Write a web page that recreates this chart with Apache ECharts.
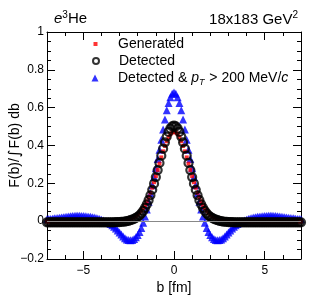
<!DOCTYPE html>
<html>
<head>
<meta charset="utf-8">
<script src="https://cdn.jsdelivr.net/npm/echarts@6/dist/echarts.min.js"></script>
<style>html,body{margin:0;padding:0;background:#fff;}#c{width:317px;height:305px;}</style>
</head>
<body>
<div id="c"></div>
<script>
// ---- data ----
var bVals = [-7.0,-6.9,-6.8,-6.7,-6.6,-6.5,-6.4,-6.3,-6.2,-6.1,-6.0,-5.9,-5.8,-5.7,-5.6,-5.5,-5.4,-5.3,-5.2,-5.1,
-5.0,-4.9,-4.8,-4.7,-4.6,-4.5,-4.4,-4.3,-4.2,-4.1,-4.0,-3.9,-3.8,-3.7,-3.6,-3.5,-3.4,-3.3,-3.2,-3.1,
-3.0,-2.9,-2.8,-2.7,-2.6,-2.5,-2.4,-2.3,-2.2,-2.1,-2.0,-1.9,-1.8,-1.7,-1.6,-1.5,-1.4,-1.3,-1.2,-1.1,
-1.0,-0.9,-0.8,-0.7,-0.6,-0.5,-0.4,-0.3,-0.2,-0.1,0.0,
0.1,0.2,0.3,0.4,0.5,0.6,0.7,0.8,0.9,1.0,1.1,1.2,1.3,1.4,1.5,1.6,1.7,1.8,1.9,2.0,
2.1,2.2,2.3,2.4,2.5,2.6,2.7,2.8,2.9,3.0,3.1,3.2,3.3,3.4,3.5,3.6,3.7,3.8,3.9,4.0,
4.1,4.2,4.3,4.4,4.5,4.6,4.7,4.8,4.9,5.0,5.1,5.2,5.3,5.4,5.5,5.6,5.7,5.8,5.9,6.0,
6.1,6.2,6.3,6.4,6.5,6.6,6.7,6.8,6.9,7.0];

var generated = [
-0.002,-0.002,-0.002,-0.002,-0.002,-0.002,-0.002,-0.002,-0.002,-0.002,
-0.002,-0.002,-0.002,-0.002,-0.002,-0.002,-0.002,-0.002,-0.002,-0.002,
-0.002,-0.002,-0.002,-0.002,-0.002,-0.002,-0.002,-0.002,-0.002,-0.002,
-0.001,-0.001,0.000,0.000,0.001,0.001,0.001,0.002,0.002,0.003,
0.003,0.004,0.005,0.006,0.008,0.010,0.013,0.017,0.022,0.028,
0.036,0.045,0.056,0.069,0.085,0.104,0.126,0.150,0.177,0.206,
0.238,0.271,0.304,0.337,0.369,0.398,0.423,0.444,0.460,0.469,
0.472,
0.469,0.460,0.444,0.423,0.398,0.369,0.337,0.304,0.271,0.238,
0.206,0.177,0.150,0.126,0.104,0.085,0.069,0.056,0.045,0.036,
0.028,0.022,0.017,0.013,0.010,0.008,0.006,0.005,0.004,0.003,
0.003,0.002,0.002,0.001,0.001,0.001,0.000,0.000,-0.001,-0.001,
-0.002,-0.002,-0.002,-0.002,-0.002,-0.002,-0.002,-0.002,-0.002,-0.002,
-0.002,-0.002,-0.002,-0.002,-0.002,-0.002,-0.002,-0.002,-0.002,-0.002,
-0.002,-0.002,-0.002,-0.002,-0.002,-0.002,-0.002,-0.002,-0.002,-0.002];

var detected = [
-0.006,-0.006,-0.006,-0.006,-0.006,-0.006,-0.006,-0.006,-0.006,-0.006,
-0.006,-0.006,-0.006,-0.006,-0.006,-0.006,-0.006,-0.006,-0.006,-0.006,
-0.006,-0.006,-0.006,-0.006,-0.006,-0.006,-0.006,-0.006,-0.006,-0.006,
-0.006,-0.006,-0.006,-0.006,-0.006,-0.006,-0.006,-0.006,-0.005,-0.005,
-0.005,-0.004,-0.003,-0.002,0.000,0.002,0.005,0.008,0.012,0.017,
0.023,0.031,0.041,0.054,0.070,0.089,0.111,0.137,0.166,0.198,
0.233,0.270,0.308,0.346,0.383,0.417,0.447,0.472,0.490,0.501,
0.505,
0.501,0.490,0.472,0.447,0.417,0.383,0.346,0.308,0.270,0.233,
0.198,0.166,0.137,0.111,0.089,0.070,0.054,0.041,0.031,0.023,
0.017,0.012,0.008,0.005,0.002,0.000,-0.002,-0.003,-0.004,-0.005,
-0.005,-0.005,-0.006,-0.006,-0.006,-0.006,-0.006,-0.006,-0.006,-0.006,
-0.006,-0.006,-0.006,-0.006,-0.006,-0.006,-0.006,-0.006,-0.006,-0.006,
-0.006,-0.006,-0.006,-0.006,-0.006,-0.006,-0.006,-0.006,-0.006,-0.006,
-0.006,-0.006,-0.006,-0.006,-0.006,-0.006,-0.006,-0.006,-0.006,-0.006];

var detectedPt = [
0.010,0.011,0.012,0.013,0.015,0.016,0.017,0.018,0.020,0.021,
0.022,0.024,0.025,0.026,0.027,0.027,0.028,0.028,0.028,0.027,
0.027,0.026,0.025,0.024,0.023,0.021,0.019,0.017,0.014,0.011,
0.008,0.004,0.000,-0.004,-0.009,-0.015,-0.022,-0.030,-0.039,-0.049,
-0.060,-0.071,-0.081,-0.090,-0.097,-0.100,-0.101,-0.099,-0.094,-0.085,
-0.073,-0.057,-0.036,-0.008,0.025,0.062,0.103,0.146,0.190,0.234,
0.280,0.328,0.378,0.431,0.485,0.538,0.586,0.625,0.655,0.674,
0.680,
0.674,0.655,0.625,0.586,0.538,0.485,0.431,0.378,0.328,0.280,
0.234,0.190,0.146,0.103,0.062,0.025,-0.008,-0.036,-0.057,-0.073,
-0.085,-0.094,-0.099,-0.101,-0.100,-0.097,-0.090,-0.081,-0.071,-0.060,
-0.049,-0.039,-0.030,-0.022,-0.015,-0.009,-0.004,0.000,0.004,0.008,
0.011,0.014,0.017,0.019,0.021,0.023,0.024,0.025,0.026,0.027,
0.027,0.028,0.028,0.028,0.027,0.027,0.026,0.025,0.024,0.022,
0.021,0.020,0.018,0.017,0.016,0.015,0.013,0.012,0.011,0.010];

var xMajorTicks = [-5, 0, 5];
var xMinorTicks = [-7,-6,-4,-3,-2,-1,1,2,3,4,6,7];
var seriesNames = ['Generated', 'Detected', 'Detected & pT > 200 MeV/c'];

// ---- chart ----
var FONT = 'Liberation Sans';
function pair(ys){ return bVals.map(function(b,i){ return [b, ys[i]]; }); }
function minus(v){ return String(v).replace('-', '\u2212'); }

var xBase = { type:'value', min:-7, max:7, gridIndex:0, splitLine:{show:false} };
function xAx(extra){ return Object.assign({}, xBase, extra); }
function tx(size, extra){ return Object.assign({fontFamily:FONT, fontSize:size, fontWeight:'normal', color:'#000'}, extra||{}); }

function legendText(pad, extra){ return Object.assign(tx(14, {lineHeight:16, padding:[0,0,0,pad]}), extra||{}); }

var chart = echarts.init(document.getElementById('c'), null, {renderer:'canvas'});
chart.setOption({
  animation:false,
  backgroundColor:'#fff',
  grid:{left:47, right:16, top:32, bottom:46, outerBoundsMode:'none', containLabel:false},
  title:[
    {text:'{i|e}{sup|3}{n|He}', left:54, top:10, padding:0,
     textStyle:tx(15, {rich:{
       i:tx(15, {fontStyle:'italic', lineHeight:18}),
       sup:tx(10, {padding:[0,0,7,0]}),
       n:tx(15, {lineHeight:18})}})},
    {text:'{n|18x183 GeV}{sup|2}', right:19, top:10, padding:0,
     textStyle:tx(15, {rich:{
       n:tx(15, {lineHeight:18}),
       sup:tx(10, {padding:[0,0,10,0]})}})}
  ],
  legend:[
    {data:[seriesNames[0]], left:93.5, top:36, padding:0, itemWidth:4, itemHeight:4, itemGap:0,
     textStyle:legendText(15.5)},
    {data:[seriesNames[1]], left:92, top:53, padding:0, itemWidth:6, itemHeight:6, itemGap:0,
     textStyle:legendText(15)},
    {data:[seriesNames[2]], left:91.5, top:70, padding:0, itemWidth:7, itemHeight:7, itemGap:0,
     formatter:function(){ return '{n|Detected & }{i|p}{s|T}{n| > 200 MeV/}{i|c}'; },
     textStyle:legendText(14.5, {rich:{
         n:tx(14, {lineHeight:16}),
         i:tx(14, {fontStyle:'italic', lineHeight:16}),
         s:tx(9, {fontStyle:'italic', padding:[8,1,0,0]})}})}
  ],
  xAxis:[
    xAx({position:'bottom',
      axisLine:{show:true, onZero:false, lineStyle:{color:'#000', width:1}},
      axisTick:{show:true, inside:true, length:8, customValues:xMajorTicks, lineStyle:{color:'#000'}},
      axisLabel:Object.assign(tx(12), {show:true, customValues:xMajorTicks, margin:6,
        formatter:function(v){ return minus(v); }}),
      name:'b [fm]', nameLocation:'middle', nameGap:22, nameMoveOverlap:false,
      nameTextStyle:tx(14)}),
    xAx({position:'bottom',
      axisLine:{show:false, onZero:false},
      axisTick:{show:true, inside:true, length:4, customValues:xMinorTicks, lineStyle:{color:'#000'}},
      axisLabel:{show:false}}),
    xAx({position:'top',
      axisLine:{show:true, onZero:false, lineStyle:{color:'#000', width:1}},
      axisTick:{show:true, inside:true, length:8, customValues:xMajorTicks, lineStyle:{color:'#000'}},
      axisLabel:{show:false}}),
    xAx({position:'top',
      axisLine:{show:false, onZero:false},
      axisTick:{show:true, inside:true, length:4, customValues:xMinorTicks, lineStyle:{color:'#000'}},
      axisLabel:{show:false}})
  ],
  yAxis:[
    {type:'value', min:-0.2, max:1, interval:0.2, position:'left',
     axisLine:{show:true, onZero:false, lineStyle:{color:'#000', width:1}},
     axisTick:{show:true, inside:true, length:8, lineStyle:{color:'#000'}},
     minorTick:{show:true, splitNumber:4, length:4, lineStyle:{color:'#000'}},
     splitLine:{show:false},
     axisLabel:Object.assign(tx(12), {margin:3,
       formatter:function(v){ return minus(Math.round(v*10)/10); }}),
     name:'{n|F(b)/}{int|\u222B}{n|F(b) db}', nameLocation:'middle', nameRotate:90, nameGap:23,
     nameMoveOverlap:false,
     nameTextStyle:tx(14, {rich:{
       n:tx(14, {lineHeight:18}),
       int:tx(15, {fontFamily:'DejaVu Sans', lineHeight:18, padding:[0,1,0,1]})}})},
    {type:'value', min:-0.2, max:1, interval:0.2, position:'right',
     axisLine:{show:true, onZero:false, lineStyle:{color:'#000', width:1}},
     axisTick:{show:true, inside:true, length:8, lineStyle:{color:'#000'}},
     minorTick:{show:true, splitNumber:4, length:4, lineStyle:{color:'#000'}},
     splitLine:{show:false},
     axisLabel:{show:false}}
  ],
  series:[
    {name:seriesNames[2], type:'scatter', xAxisIndex:0, yAxisIndex:0, data:pair(detectedPt),
     symbol:'triangle', symbolSize:8, itemStyle:{color:'#0000ff'},
     markLine:{silent:true, symbol:'none', label:{show:false},
       lineStyle:{color:'#888', width:1, type:'solid'}, data:[{yAxis:0}]}},
    {name:seriesNames[0], type:'scatter', xAxisIndex:0, yAxisIndex:0, data:pair(generated),
     symbol:'rect', symbolSize:4, itemStyle:{color:'#ff0000'}},
    {name:seriesNames[1], type:'scatter', xAxisIndex:0, yAxisIndex:0, data:pair(detected),
     symbol:'circle', symbolSize:8,
     itemStyle:{color:'rgba(0,0,0,0)', borderColor:'#000', borderWidth:2.2}}
  ]
});
</script>
</body>
</html>
